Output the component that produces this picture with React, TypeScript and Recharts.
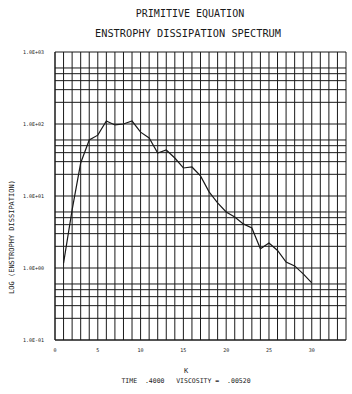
import { LineChart, Line, XAxis, YAxis, CartesianGrid } from "recharts";

// wavenumber k and enstrophy dissipation at each k
const wavenumbers = [
  1, 2, 3, 4, 5, 6, 7, 8, 9, 10, 11, 12, 13, 14, 15, 16, 17, 18, 19, 20, 21,
  22, 23, 24, 25, 26, 27, 28, 29, 30,
];
const dissipation = [
  1.17, 6.4, 28.7, 60, 70, 110, 97, 100, 110, 77, 64, 39.5, 43.5, 33.7, 24.5,
  25.3, 19, 11.4, 8.0, 6.0, 5.1, 4.1, 3.6, 1.85, 2.22, 1.75, 1.21, 1.07, 0.83,
  0.62,
];

const decades = [0.1, 1, 10, 100, 1000];
const decadeLabels = ["1.0E-01", "1.0E+00", "1.0E+01", "1.0E+02", "1.0E+03"];
const kTicks = [0, 5, 10, 15, 20, 25, 30];
const kMax = 34;

const data = wavenumbers.map((k, i) => ({ k, value: dissipation[i] }));

// log-paper rulings: 1..9 in every decade
const yGridTicks: number[] = [];
decades.slice(0, -1).forEach((d) => {
  for (let m = 1; m < 10; m++) yGridTicks.push(+(d * m).toPrecision(3));
});
yGridTicks.push(1000);
// one vertical ruling per wavenumber
const xGridTicks = Array.from({ length: kMax + 1 }, (_, i) => i);

const FONT = "'DejaVu Sans Mono', monospace";
const INK = "#1a1a1a";

type GridArgs = { offset: { left: number; width: number } };

export default function App() {
  return (
    <div
      style={{
        position: "absolute",
        left: 0,
        top: 0,
        width: 352,
        height: 394,
        background: "#fff",
        fontFamily: FONT,
        color: INK,
      }}
    >
      <div style={{ position: "absolute", top: 8, left: 0, width: 380, textAlign: "center", fontSize: 10 }}>
        PRIMITIVE EQUATION
      </div>
      <div style={{ position: "absolute", top: 27, left: 0, width: 376, textAlign: "center", fontSize: 10.3 }}>
        ENSTROPHY DISSIPATION SPECTRUM
      </div>
      <div
        style={{
          position: "absolute",
          left: 12 - 80,
          top: 238 - 5,
          width: 160,
          textAlign: "center",
          fontSize: 7,
          transform: "rotate(-90deg)",
          whiteSpace: "nowrap",
        }}
      >
        LOG (ENSTROPHY DISSIPATION)
      </div>
      <div style={{ position: "absolute", top: 367, left: 0, width: 372, textAlign: "center", fontSize: 7 }}>
        K
      </div>
      <div style={{ position: "absolute", top: 377, left: 0, width: 372, textAlign: "center", fontSize: 6.5, whiteSpace: "pre" }}>
        {"TIME  .4000   VISCOSITY =  .00520"}
      </div>

      <LineChart
        width={352}
        height={394}
        data={data}
        margin={{ top: 52, right: 6, bottom: 38, left: 0 }}
        style={{ position: "absolute", left: 0, top: 0 }}
      >
        <CartesianGrid
          stroke={INK}
          strokeWidth={1}
          horizontalValues={yGridTicks}
          verticalCoordinatesGenerator={({ offset }: GridArgs) =>
            xGridTicks.map((t) => offset.left + (t / kMax) * offset.width)
          }
        />
        <XAxis
          dataKey="k"
          type="number"
          domain={[0, kMax]}
          ticks={kTicks}
          height={16}
          axisLine={{ stroke: INK }}
          tickLine={false}
          tick={{ fontSize: 5, fill: INK, fontFamily: FONT }}
          tickMargin={2}
        />
        <YAxis
          type="number"
          scale="log"
          domain={[0.1, 1000]}
          ticks={decades}
          allowDataOverflow
          width={55}
          axisLine={{ stroke: INK }}
          tickLine={false}
          tick={{ fontSize: 5, fill: INK, fontFamily: FONT }}
          tickMargin={5}
          tickFormatter={(v: number) => decadeLabels[decades.indexOf(v)] ?? ""}
        />
        <Line
          dataKey="value"
          type="linear"
          stroke={INK}
          strokeWidth={1.2}
          dot={false}
          isAnimationActive={false}
        />
      </LineChart>
    </div>
  );
}
